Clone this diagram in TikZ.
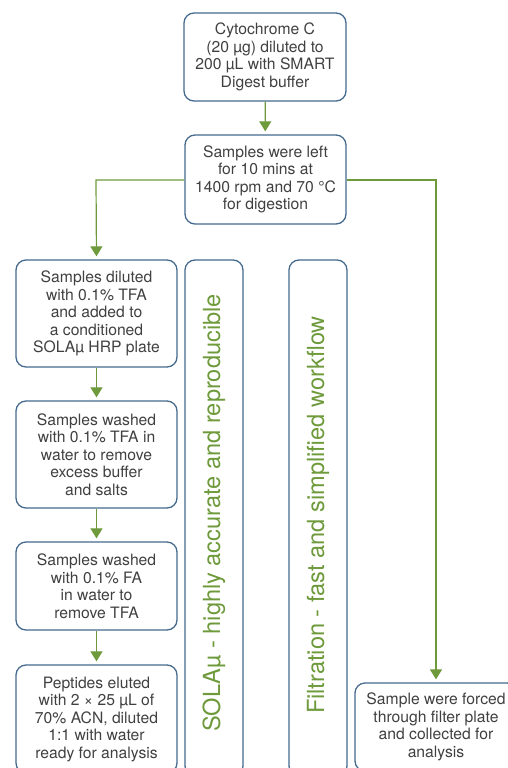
\documentclass[tikz,border=0pt]{standalone}
\usepackage{fontspec}
\setmainfont{TeX Gyre Heros}
\usetikzlibrary{arrows.meta}
\definecolor{bblue}{HTML}{456A8E}
\definecolor{bgreen}{HTML}{6E9A3C}
\definecolor{tgray}{HTML}{404040}
\tikzset{
  box/.style={draw=bblue, line width=1.3pt, rounded corners=10pt, align=center,
    text=tgray, font=\fontsize{15.7}{17.5}\selectfont, inner sep=0pt},
  tallbox/.style={draw=bblue, line width=1.3pt, rounded corners=10pt,
    minimum width=58pt, minimum height=516pt, inner sep=0pt},
  vlabel/.style={text=bgreen, font=\fontsize{23.6}{26}\selectfont, rotate=90},
  flow/.style={draw=bgreen, line width=1.2pt, -{Triangle[width=12pt,length=10pt]}, shorten >=3pt}
}
\begin{document}
\begin{tikzpicture}[x=1pt,y=-1pt]
\useasboundingbox (0,0) rectangle (508,768);
\clip (0,0) rectangle (508,768);
\node[box, minimum width=162pt, minimum height=88pt] (b1) at (265,57)
  {Cytochrome C\\(20 µg) diluted to\\200 µL with SMART\\Digest buffer};
\node[box, minimum width=161pt, minimum height=89pt] (b2) at (265.5,179.5)
  {Samples were left\\for 10 mins at\\1400 rpm and 70 °C\\for digestion};
\node[box, minimum width=161pt, minimum height=107pt] (b3) at (96.5,313.5)
  {Samples diluted\\with 0.1\% TFA\\and added to\\a conditioned\\SOLAµ HRP plate};
\node[box, minimum width=161pt, minimum height=107pt] (b4) at (96.5,454.5)
  {Samples washed\\with 0.1\% TFA in\\water to remove\\excess buffer\\and salts};
\node[box, minimum width=161pt, minimum height=88pt] (b5) at (96.5,586)
  {Samples washed\\with 0.1\% FA\\in water to\\remove TFA};
\node[box, minimum width=161pt, minimum height=108pt] (b6) at (96.5,719)
  {Peptides eluted\\with 2 × 25 µL of\\70\% ACN, diluted\\1:1 with water\\ready for analysis};
\node[tallbox] (t1) at (214,518) {};
\node[vlabel] (l1) at (214,513) {SOLAµ - highly accurate and reproducible};
\node[tallbox] (t2) at (318,518) {};
\node[vlabel] (l2) at (318,515) {Filtration - fast and simplified workflow};
\node[box, minimum width=162pt, minimum height=88pt] (b7) at (436,727)
  {Sample were forced\\through filter plate\\and collected for\\analysis};
\coordinate (cl) at (96,180);
\coordinate (cr) at (436,180);
\draw[flow] (b1) -- (b2);
\draw[flow] (b2.west |- cl) -- (cl) -- (b3.north);
\draw[flow] (b2.east |- cr) -- (cr) -- (b7.north -| cr);
\draw[flow] (b3) -- (b4);
\draw[flow] (b4) -- (b5);
\draw[flow] (b5) -- (b6);
\end{tikzpicture}
\end{document}
